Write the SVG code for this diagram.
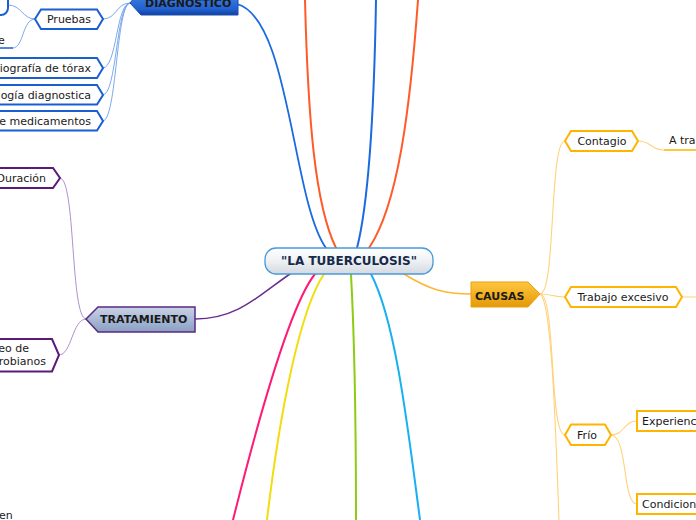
<svg xmlns="http://www.w3.org/2000/svg" width="696" height="520" viewBox="0 0 696 520">
<defs>
<linearGradient id="gCenter" x1="0" y1="0" x2="0" y2="1"><stop offset="0" stop-color="#ffffff"/><stop offset="0.5" stop-color="#eef1f4"/><stop offset="1" stop-color="#d3d9e0"/></linearGradient>
<linearGradient id="gDiag" x1="0" y1="0" x2="0" y2="1"><stop offset="0" stop-color="#4f8fe8"/><stop offset="0.8" stop-color="#1f5fcf"/><stop offset="1" stop-color="#123f9a"/></linearGradient>
<linearGradient id="gCaus" x1="0" y1="0" x2="0" y2="1"><stop offset="0" stop-color="#ffc63e"/><stop offset="1" stop-color="#e39a08"/></linearGradient>
<linearGradient id="gTrat" x1="0" y1="0" x2="0" y2="1"><stop offset="0" stop-color="#c9d3e6"/><stop offset="1" stop-color="#8a9fc4"/></linearGradient>
</defs>
<style>
text{font-family:"DejaVu Sans","Verdana",sans-serif;font-size:11px;fill:#1a1a1a}
.b{font-weight:bold}
.c{fill:none;stroke-linecap:round}
.blueN{fill:#fff;stroke:#1a5fd0;stroke-width:2}
.goldN{fill:#fff;stroke:#ffb400;stroke-width:2}
.purpN{fill:#fff;stroke:#5a1a7a;stroke-width:2}
.dc{stroke:#6d9eeb;stroke-width:0.9}
.cc{stroke:#ffd27a;stroke-width:1.1}
.tc{stroke:#a583c4;stroke-width:0.9}
</style>
<g id="connectors">
<path class="c" d="M237,4 C290,18 292,200 326,248" stroke="#1a6ae0" stroke-width="1.8"/>
<path class="c" d="M305,0 C308,120 315,205 336,248" stroke="#ff5a28" stroke-width="2"/>
<path class="c" d="M376,0 C374,120 368,205 357,248" stroke="#1a6ae0" stroke-width="2"/>
<path class="c" d="M418,0 C410,110 398,205 369,248" stroke="#ff5a28" stroke-width="2"/>
<path class="c" d="M315,274 C290,305 258,420 233,520" stroke="#ff1a78" stroke-width="2"/>
<path class="c" d="M324,274 C300,310 280,410 267,520" stroke="#f2de10" stroke-width="2"/>
<path class="c" d="M351,274 C354,330 356,420 356,520" stroke="#8ccc10" stroke-width="2"/>
<path class="c" d="M371,274 C395,320 407,420 420,520" stroke="#18b0f0" stroke-width="2"/>
<path class="c" d="M404,274 C430,290 445,294 471,294" stroke="#ffb732" stroke-width="1.5"/>
<path class="c" d="M293,272 C262,292 240,319 195,319" stroke="#6b2c8f" stroke-width="1.5"/>
<path class="c dc" d="M130,3 C116,3 117,19 103,19"/>
<path class="c dc" d="M130,3 C116,3 117,68 103,68"/>
<path class="c dc" d="M130,3 C116,3 117,95 103,95"/>
<path class="c dc" d="M130,3 C116,3 117,121 103,121"/>
<path class="c dc" d="M35,19 C22,19 22,5 8,5"/>
<path class="c dc" d="M35,19 C22,19 24,48 13,48"/>
<path class="c cc" d="M540,294 C556,294 549,141 565,141"/>
<path class="c cc" d="M540,294 C552,294 553,297 565,297"/>
<path class="c cc" d="M540,294 C556,294 549,435 565,435"/>
<path class="c cc" d="M540,294 C552,300 556,440 559,520"/>
<path class="c cc" d="M638,141 C652,141 650,150 664,150"/>
<path class="c cc" d="M682,297 L696,297"/>
<path class="c cc" d="M611,435 C625,435 623,421 637,421"/>
<path class="c cc" d="M611,435 C628,435 622,504 637,504"/>
<path class="c tc" d="M86,319 C70,319 76,178 60,178"/>
<path class="c tc" d="M86,319 C72,319 72,355 59,355"/>
</g>
<g id="center">
<rect x="265" y="248" width="168" height="26" rx="11" fill="url(#gCenter)" stroke="#4a9ad6" stroke-width="1.3"/>
<text x="349" y="265" text-anchor="middle" class="b" style="font-size:12px;fill:#172a4a">"LA TUBERCULOSIS"</text>
</g>
<g id="diagnostico">
<polygon points="130,3 142,-12 238,-12 238,15 141,15" fill="url(#gDiag)" stroke="#1a4fb0" stroke-width="1"/>
<text x="145" y="7" class="b">DIAGNOSTICO</text>
</g>
<g id="pruebas">
<polygon class="blueN" points="35,19 41,9.5 97,9.5 103,19 97,29 41,29"/>
<text x="69" y="23" text-anchor="middle">Pruebas</text>
</g>
<g id="pruebas-child1">
<rect class="blueN" x="-40" y="-12" width="48" height="27" rx="7"/>
</g>
<g id="pruebas-child2">
<line x1="0" y1="48" x2="13" y2="48" stroke="#1a5fd0" stroke-width="1.5"/>
<text x="-2" y="44">e</text>
</g>
<g id="radiografia">
<polygon class="blueN" points="-20,58 97,58 103,68 97,78 -20,78"/>
<text x="91" y="72" text-anchor="end">iografía de tórax</text>
</g>
<g id="bacteriologia">
<polygon class="blueN" points="-20,85 97,85 103,95 97,104.5 -20,104.5"/>
<text x="91" y="99" text-anchor="end">logía diagnostica</text>
</g>
<g id="medicamentos">
<polygon class="blueN" points="-20,111 97,111 103,121 97,130.5 -20,130.5"/>
<text x="91" y="125" text-anchor="end">e medicamentos</text>
</g>
<g id="tratamiento">
<polygon points="86,319 98,307 195,307 195,332 98,332" fill="url(#gTrat)" stroke="#5a2a80" stroke-width="1.5"/>
<text x="100" y="323" class="b">TRATAMIENTO</text>
</g>
<g id="duracion">
<polygon class="purpN" points="-20,168 53,168 60,178 53,188 -20,188"/>
<text x="46" y="182" text-anchor="end">Duración</text>
</g>
<g id="antimicrobianos">
<polygon class="purpN" points="-20,339 52,339 59,355 52,371.5 -20,371.5"/>
<text x="29" y="352" text-anchor="end">eo de</text>
<text x="46" y="365" text-anchor="end">robianos</text>
</g>
<g id="causas">
<polygon points="471,282 528,282 540,294 528,307 471,307" fill="url(#gCaus)" stroke="#e9a010" stroke-width="1"/>
<text x="475" y="300" class="b">CAUSAS</text>
</g>
<g id="contagio">
<polygon class="goldN" points="565,141 571,131 632,131 638,141 632,151 571,151"/>
<text x="602" y="145" text-anchor="middle">Contagio</text>
</g>
<g id="contagio-child">
<line x1="664" y1="150" x2="697" y2="150" stroke="#ffb400" stroke-width="1.5"/>
<text x="669" y="144">A tra</text>
</g>
<g id="trabajo">
<polygon class="goldN" points="565,297 571,287 676,287 682,297 676,307 571,307"/>
<text x="623" y="301" text-anchor="middle">Trabajo excesivo</text>
</g>
<g id="frio">
<polygon class="goldN" points="565,435 571,424.5 605,424.5 611,435 605,445 571,445"/>
<text x="587" y="439" text-anchor="middle">Frío</text>
</g>
<g id="experiencia">
<rect class="goldN" x="637" y="411" width="70" height="20"/>
<text x="642" y="425">Experienc</text>
</g>
<g id="condiciones">
<rect class="goldN" x="637" y="494" width="70" height="20"/>
<text x="642" y="508">Condicion</text>
</g>
<g id="bottom-left">
<text x="-1" y="519">en</text>
</g>
</svg>
